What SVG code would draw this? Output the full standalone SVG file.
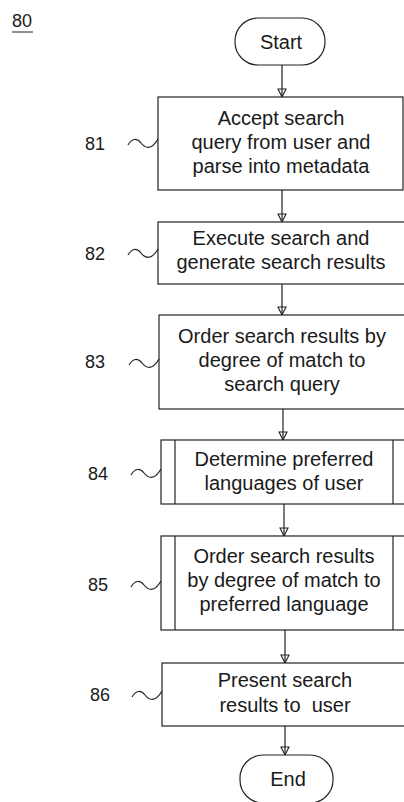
<svg xmlns="http://www.w3.org/2000/svg" width="404" height="802" viewBox="0 0 404 802">
  <defs>
    <style>
      .box { fill: #fff; stroke: #222; stroke-width: 1.2; }
      .edge { fill: none; stroke: #222; stroke-width: 1.2; }
      .txt { font-family: "Liberation Sans", Arial, sans-serif; font-size: 20px; fill: #1a1a1a; text-anchor: middle; white-space: pre; }
      .ref { font-family: "Liberation Sans", Arial, sans-serif; font-size: 18px; fill: #1a1a1a; }
      .wave { fill: none; stroke: #222; stroke-width: 1.2; }
    </style>
    <!-- open triangular head, shaft runs through it -->
    <marker id="arrow" markerWidth="10" markerHeight="10" refX="9" refY="5" orient="auto" markerUnits="userSpaceOnUse" viewBox="0 0 10 10">
      <path d="M1,1 L1,9 L9,5 Z" fill="none" stroke="#222" stroke-width="1.1"/>
    </marker>
    <path id="squiggle" d="M0,2 C4,-5 9,-5 13,0 S23,8 30,-4"/>
  </defs>

  <!-- figure number -->
  <g id="fig-label">
    <text class="ref" x="12" y="27">80</text>
    <line x1="12" y1="32" x2="33" y2="32" stroke="#222" stroke-width="1"/>
  </g>

  <!-- connectors -->
  <g id="connectors">
    <line class="edge" x1="282" y1="65" x2="282" y2="97" marker-end="url(#arrow)"/>
    <line class="edge" x1="282" y1="190" x2="282" y2="222" marker-end="url(#arrow)"/>
    <line class="edge" x1="282" y1="284" x2="282" y2="315" marker-end="url(#arrow)"/>
    <line class="edge" x1="283" y1="409" x2="283" y2="440" marker-end="url(#arrow)"/>
    <line class="edge" x1="284" y1="504" x2="284" y2="536" marker-end="url(#arrow)"/>
    <line class="edge" x1="285" y1="630" x2="285" y2="663" marker-end="url(#arrow)"/>
    <line class="edge" x1="285" y1="726" x2="285" y2="755" marker-end="url(#arrow)"/>
  </g>

  <!-- Start terminal -->
  <g id="start">
    <rect class="box" x="235" y="18" width="90" height="47" rx="23" ry="23"/>
    <text class="txt" x="281" y="49">Start</text>
  </g>

  <!-- step 81 -->
  <g id="step81">
    <rect class="box" x="158" y="97" width="245" height="93"/>
    <text class="txt" x="281" y="125">Accept search</text>
    <text class="txt" x="281" y="149">query from user and</text>
    <text class="txt" x="281" y="173">parse into metadata</text>
    <text class="ref" x="85" y="150">81</text>
    <use href="#squiggle" class="wave" transform="translate(128,143)"/>
  </g>

  <!-- step 82 -->
  <g id="step82">
    <rect class="box" x="158" y="222" width="250" height="62"/>
    <text class="txt" x="281" y="245">Execute search and</text>
    <text class="txt" x="281" y="269">generate search results</text>
    <text class="ref" x="85" y="260">82</text>
    <use href="#squiggle" class="wave" transform="translate(128,253)"/>
  </g>

  <!-- step 83 -->
  <g id="step83">
    <rect class="box" x="159" y="315" width="250" height="94"/>
    <text class="txt" x="282" y="343">Order search results by</text>
    <text class="txt" x="282" y="367">degree of match to</text>
    <text class="txt" x="282" y="391">search query</text>
    <text class="ref" x="85" y="368">83</text>
    <use href="#squiggle" class="wave" transform="translate(129,363)"/>
  </g>

  <!-- step 84 (predefined process) -->
  <g id="step84">
    <rect class="box" x="161" y="440" width="248" height="64"/>
    <line class="edge" x1="175" y1="440" x2="175" y2="504"/>
    <line class="edge" x1="393" y1="440" x2="393" y2="504"/>
    <text class="txt" x="284" y="466">Determine preferred</text>
    <text class="txt" x="284" y="490">languages of user</text>
    <text class="ref" x="88" y="480">84</text>
    <use href="#squiggle" class="wave" transform="translate(131,473)"/>
  </g>

  <!-- step 85 (predefined process) -->
  <g id="step85">
    <rect class="box" x="161" y="536" width="248" height="94"/>
    <line class="edge" x1="175" y1="536" x2="175" y2="630"/>
    <line class="edge" x1="393" y1="536" x2="393" y2="630"/>
    <text class="txt" x="284" y="563">Order search results</text>
    <text class="txt" x="284" y="587">by degree of match to</text>
    <text class="txt" x="284" y="611">preferred language</text>
    <text class="ref" x="88" y="591">85</text>
    <use href="#squiggle" class="wave" transform="translate(131,585)"/>
  </g>

  <!-- step 86 -->
  <g id="step86">
    <rect class="box" x="162" y="663" width="247" height="63"/>
    <text class="txt" x="285" y="687">Present search</text>
    <text class="txt" x="285" y="712">results to  user</text>
    <text class="ref" x="90" y="701">86</text>
    <use href="#squiggle" class="wave" transform="translate(132,695)"/>
  </g>

  <!-- End terminal -->
  <g id="end">
    <rect class="box" x="240" y="755" width="93" height="48" rx="23" ry="23"/>
    <text class="txt" x="288" y="786">End</text>
  </g>
</svg>
